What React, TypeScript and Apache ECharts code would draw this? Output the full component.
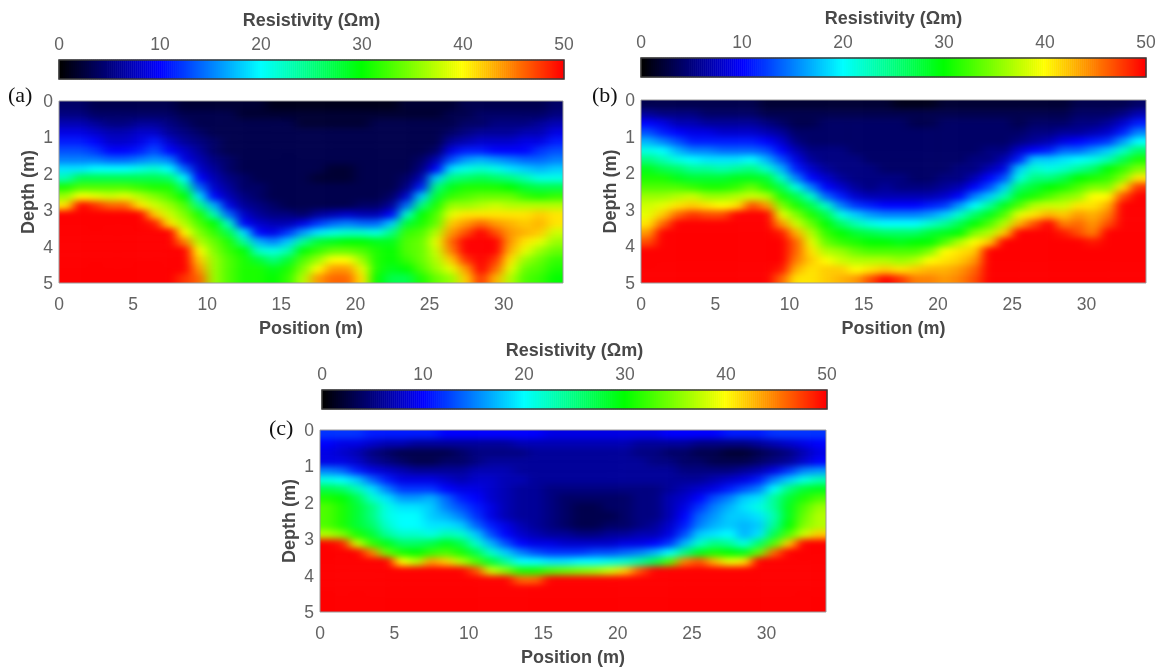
import React, { useEffect, useRef } from "react";
import * as echarts from "echarts";

const positions = [0.5,1.5,2.5,3.5,4.5,5.5,6.5,7.5,8.5,9.5,10.5,11.5,12.5,13.5,14.5,15.5,16.5,17.5,18.5,19.5,20.5,21.5,22.5,23.5,24.5,25.5,26.5,27.5,28.5,29.5,30.5,31.5,32.5,33.5];
const depths = [0.125,0.375,0.625,0.875,1.125,1.375,1.625,1.875,2.125,2.375,2.625,2.875,3.125,3.375,3.625,3.875,4.125,4.375,4.625,4.875];

// one line per position column, top to bottom
const profileA = [
[4,5,7,9,11,13,15,19,23,31,36,41,50,50,50,50,50,50,50,50],
[4,5,7,9,11,13,15,19,27,33,40,50,50,50,50,50,50,50,50,50],
[3,4,6,8,10,12,15,20,27,33,39,48,50,50,50,50,50,50,50,50],
[3,4,5,7,8,10,14,20,27,33,38,46,50,50,50,50,50,50,50,50],
[3,4,5,7,8,10,14,20,27,33,39,46,50,50,50,50,50,50,50,50],
[3,4,6,8,9,11,15,21,27,32,37,41,50,50,50,50,50,50,50,50],
[3,4,6,8,11,13,16,22,27,31,35,38,42,49,50,50,50,50,50,50],
[3,4,5,6,8,10,15,20,26,31,33,36,38,41,50,50,50,50,50,50],
[2,3,4,5,6,8,9,14,20,25,30,33,35,37,40,45,50,50,50,48],
[2,3,3,4,5,6,7,8,10,14,19,25,31,33,35,37,40,42,44,46],
[2,3,3,3,4,4,5,6,7,8,10,17,23,30,32,34,35,36,36,36],
[2,3,3,3,3,3,4,4,5,6,7,9,14,22,27,31,32,33,33,33],
[2,2,3,3,3,3,3,3,4,4,5,6,8,10,19,24,30,31,31,31],
[2,2,3,3,3,3,3,3,3,4,4,5,6,8,10,17,22,28,31,31],
[1,2,3,3,3,3,3,3,3,3,3,4,5,7,9,15,21,25,29,30],
[1,2,3,3,3,3,3,3,3,3,3,3,5,7,12,18,23,28,31,32],
[1,2,2,3,3,3,3,3,3,3,3,3,4,9,16,24,30,33,35,37],
[1,2,2,3,3,3,3,3,2,3,3,3,6,12,19,28,32,36,40,44],
[1,2,2,3,3,3,3,2,2,3,3,3,7,14,21,29,34,40,44,46],
[1,2,2,3,3,3,3,2,2,3,3,3,8,15,22,30,34,40,44,46],
[1,2,2,3,3,3,3,3,3,3,3,4,7,14,22,30,33,36,39,41],
[1,2,3,3,3,3,3,3,3,3,3,4,7,14,21,29,31,31,31,30],
[1,2,3,3,3,3,3,3,3,3,4,6,10,18,25,29,30,30,29,27],
[2,2,3,3,3,3,3,3,4,5,8,14,22,28,32,33,33,32,30,27],
[2,2,3,3,3,3,4,5,7,11,18,25,30,31,33,34,34,34,33,31],
[2,2,3,3,3,4,7,10,18,25,28,31,33,34,37,39,38,37,36,34],
[2,3,3,4,6,9,13,19,25,29,32,36,39,42,44,46,45,42,39,36],
[3,3,4,5,7,11,16,21,26,31,33,36,41,44,47,50,50,48,44,42],
[3,4,4,6,8,11,17,22,27,31,34,37,41,46,50,50,50,50,50,48],
[3,4,5,6,8,10,16,21,26,31,34,38,41,44,47,50,50,48,46,43],
[3,4,5,6,8,10,15,19,25,30,34,37,41,43,44,44,43,41,39,37],
[3,4,5,7,9,10,14,18,23,28,32,37,41,42,43,41,39,36,34,33],
[3,4,6,7,9,12,14,17,21,27,31,37,42,43,42,39,36,34,33,32],
[4,5,7,9,11,13,15,18,21,27,32,37,41,41,38,36,34,32,31,30],
];

const profileB = [
[3,6,10,13,17,21,25,29,31,33,36,38,39,41,44,47,50,50,50,50],
[3,5,9,11,15,20,23,27,31,33,36,39,42,46,50,50,50,50,50,50],
[3,5,7,10,13,17,21,26,29,33,37,41,46,50,50,50,50,50,50,50],
[3,5,7,9,11,15,20,24,28,32,38,42,48,50,50,50,50,50,50,50],
[3,4,6,9,11,15,19,24,28,31,36,41,47,50,50,50,50,50,50,50],
[3,4,6,8,11,14,19,23,28,31,36,40,47,50,50,50,50,50,50,50],
[3,4,6,8,11,14,19,24,29,32,37,41,50,50,50,50,50,50,50,50],
[3,4,6,8,11,14,20,25,29,34,38,47,50,50,50,50,50,50,50,50],
[2,3,5,7,10,13,17,22,28,31,37,44,50,50,50,50,50,50,50,50],
[2,3,4,6,8,10,13,17,22,27,31,35,39,44,49,50,50,50,49,46],
[2,3,3,4,5,7,9,11,15,21,27,31,35,38,43,46,46,45,43,41],
[2,3,3,4,4,5,6,8,10,15,22,27,31,34,37,39,41,42,41,41],
[2,3,4,4,4,5,5,6,8,10,14,22,27,30,32,34,37,40,42,42],
[2,3,4,4,4,5,5,5,6,8,11,15,21,26,30,32,36,38,42,43],
[2,3,4,4,4,4,5,5,5,6,8,12,18,23,28,31,34,37,40,44],
[2,3,4,4,4,4,4,5,5,5,7,11,16,21,27,30,33,37,41,47],
[2,3,4,4,4,4,4,4,5,6,7,10,15,20,26,30,33,37,42,50],
[1,3,4,4,4,4,4,4,5,5,7,10,15,20,26,29,33,36,41,48],
[1,3,3,4,4,4,4,4,4,5,7,10,15,20,26,30,33,37,42,45],
[1,3,3,4,4,4,4,4,4,5,7,11,16,22,28,30,35,40,43,45],
[2,3,4,4,4,4,4,4,5,6,8,12,18,24,29,33,40,41,43,44],
[2,3,4,4,4,4,4,5,5,7,10,16,22,27,30,37,41,42,44,45],
[2,3,4,4,4,4,5,5,7,10,15,20,26,30,35,40,42,44,46,47],
[2,3,4,4,4,5,5,7,10,13,18,24,29,33,37,42,50,50,50,50],
[2,3,4,4,4,5,7,9,13,18,23,29,33,37,42,50,50,50,50,50],
[2,3,3,4,5,8,11,18,21,26,29,33,39,43,50,50,50,50,50,50],
[2,3,4,5,6,10,18,22,25,28,31,37,41,47,50,50,50,50,50,50],
[2,3,4,5,7,11,18,21,25,30,33,38,43,50,50,50,50,50,50,50],
[2,3,4,6,9,14,19,22,27,31,35,38,42,45,49,50,50,50,50,50],
[3,4,5,6,10,14,20,24,30,33,36,41,44,46,47,50,50,50,50,50],
[3,4,5,7,11,16,21,26,31,35,40,41,43,44,45,49,50,50,50,50],
[3,4,6,8,12,18,23,30,32,35,40,43,45,47,50,50,50,50,50,50],
[3,5,8,11,16,22,27,32,35,41,47,50,50,50,50,50,50,50,50,50],
[4,7,11,15,20,26,31,35,41,48,50,50,50,50,50,50,50,50,50,50],
];

const profileC = [
[12,10,9,9,15,21,27,31,33,33,33,37,50,50,50,50,50,50,50,50],
[12,9,8,9,14,20,26,30,31,31,31,35,49,50,50,50,50,50,50,50],
[12,9,7,8,11,18,23,27,28,28,28,31,38,50,50,50,50,50,50,50],
[11,8,5,6,9,14,19,22,25,25,26,28,32,45,50,50,50,50,50,50],
[11,7,4,5,8,11,15,19,21,21,22,24,29,34,50,50,50,50,50,50],
[11,7,3,4,7,9,12,16,19,20,20,22,26,31,40,50,50,50,50,50],
[11,6,3,3,6,9,12,16,19,20,20,22,26,30,37,50,50,50,50,50],
[11,6,3,3,6,9,12,17,18,18,19,21,27,32,44,50,50,50,50,50],
[10,6,3,4,6,8,10,14,15,17,19,23,29,33,42,50,50,50,50,50],
[10,6,4,4,6,7,9,11,13,15,18,22,27,31,37,50,50,50,50,50],
[10,6,5,5,7,8,9,10,11,12,14,18,22,27,33,47,50,50,50,50],
[10,6,5,6,7,8,8,8,9,9,11,13,17,22,28,38,50,50,50,50],
[10,6,5,6,7,7,7,7,7,7,9,10,13,18,24,35,50,50,50,50],
[10,7,5,6,6,7,6,6,6,6,7,8,10,15,20,31,46,50,50,50],
[10,7,6,6,6,6,6,6,6,6,6,7,9,13,20,31,46,50,50,50],
[9,7,6,6,6,6,5,5,5,5,5,6,9,12,19,33,50,50,50,50],
[9,7,6,6,6,6,5,4,4,4,4,6,8,12,19,34,50,50,50,50],
[9,7,6,6,6,6,5,4,3,3,3,5,8,12,20,35,50,50,50,50],
[9,7,6,6,6,6,5,4,3,3,3,5,8,13,20,36,50,50,50,50],
[9,7,6,6,6,6,5,4,4,3,4,6,8,13,21,38,50,50,50,50],
[9,7,6,6,6,6,5,4,4,4,4,6,9,14,22,42,50,50,50,50],
[9,6,5,6,6,6,5,5,5,5,5,7,9,15,24,47,50,50,50,50],
[9,6,5,5,6,6,5,5,5,5,6,7,10,17,27,50,50,50,50,50],
[10,6,4,5,6,6,6,7,7,7,8,9,12,20,33,50,50,50,50,50],
[10,6,4,4,5,6,7,8,9,10,11,13,17,25,45,50,50,50,50,50],
[10,5,3,4,5,6,8,10,12,14,15,18,22,29,47,50,50,50,50,50],
[10,5,3,3,5,7,9,13,15,16,17,19,25,31,43,50,50,50,50,50],
[11,5,2,3,5,8,11,15,17,18,18,20,24,30,39,50,50,50,50,50],
[11,5,2,3,6,9,13,18,19,18,17,17,21,29,41,50,50,50,50,50],
[11,6,3,4,7,11,15,19,21,19,18,19,26,34,50,50,50,50,50,50],
[12,7,4,5,9,15,20,24,24,23,24,27,33,46,50,50,50,50,50,50],
[12,8,5,6,12,18,25,28,29,29,30,33,42,50,50,50,50,50,50,50],
[12,9,7,8,15,21,28,31,33,34,35,38,50,50,50,50,50,50,50,50],
[12,10,9,10,16,23,29,33,36,37,37,42,50,50,50,50,50,50,50,50],
];

const panelLabels = ["(a)", "(b)", "(c)"];
const jet = ["#000000", "#0000ff", "#00ffff", "#00ff00", "#ffff00", "#ff0000"];

const W = 1164;
const H = 669;
const EDGE = 2; // hidden cells past each edge, so the smoothing does not fade at the frame
const panels = [
  { profile: profileA, plot: [59, 101, 504, 182], bar: [59, 60, 505, 19], labelPos: [8, 94] },
  { profile: profileB, plot: [641, 100, 505, 183], bar: [641, 58, 505, 19], labelPos: [592, 94] },
  { profile: profileC, plot: [320, 430, 506, 182], bar: [322, 390, 505, 19], labelPos: [269, 427] },
];

const tickText = { color: "#636363", fontSize: 17.5, fontFamily: "Liberation Sans" };
const nameText = { color: "#484848", fontSize: 18, fontWeight: "bold" as const, fontFamily: "Liberation Sans" };

const colorbarValues: number[] = [];
for (let i = 0; i <= 250; i++) colorbarValues.push(i / 5);

function overlayOption() {
  const grid: any[] = [];
  const xAxis: any[] = [];
  const yAxis: any[] = [];
  const series: any[] = [];
  const graphic: any[] = [];

  panels.forEach((p, i) => {
    const [px, py, pw, ph] = p.plot;
    const [bx, by, bw, bh] = p.bar;

    const plotGrid = grid.length;
    grid.push({ left: px, top: py, width: pw, height: ph });
    xAxis.push({
      gridIndex: plotGrid, type: "value", position: "bottom", min: 0, max: 34, interval: 5,
      axisLine: { show: false }, axisTick: { show: false }, splitLine: { show: false },
      axisLabel: { ...tickText, margin: 12, showMaxLabel: false },
      name: "Position (m)", nameLocation: "middle", nameGap: 36, nameTextStyle: nameText,
    });
    yAxis.push({
      gridIndex: plotGrid, type: "value", position: "left", inverse: true, min: 0, max: 5, interval: 1,
      axisLine: { show: false }, axisTick: { show: false }, splitLine: { show: false },
      axisLabel: { ...tickText, margin: 6 },
      name: "Depth (m)", nameLocation: "middle", nameGap: 22, nameRotate: 90, nameTextStyle: nameText,
    });

    const barGrid = grid.length;
    grid.push({ left: bx, top: by, width: bw, height: bh });
    const barCatX = xAxis.length;
    xAxis.push({ gridIndex: barGrid, type: "category", data: colorbarValues, show: false });
    xAxis.push({
      gridIndex: barGrid, type: "value", position: "top", min: 0, max: 50, interval: 10,
      axisLine: { show: false }, splitLine: { show: false },
      axisTick: { inside: true, length: 4, lineStyle: { color: "#333", width: 1.5 } },
      axisLabel: { ...tickText, margin: 7 },
      name: "Resistivity (Ωm)", nameLocation: "middle", nameGap: 31, nameTextStyle: nameText, z: 10,
    });
    const barCatY = yAxis.length;
    yAxis.push({ gridIndex: barGrid, type: "category", data: ["bar"], show: false });
    series.push({
      type: "heatmap", xAxisIndex: barCatX, yAxisIndex: barCatY,
      data: colorbarValues.map((t, c) => [c, 0, t]),
      progressive: 0, silent: true, emphasis: { disabled: true },
    });

    graphic.push({
      type: "rect", shape: { x: bx, y: by, width: bw, height: bh }, silent: true, z: 100,
      style: { fill: "none", stroke: "#3a3a3a", lineWidth: 1.5 },
    });
    graphic.push({
      type: "rect", shape: { x: px, y: py, width: pw, height: ph }, silent: true, z: 100,
      style: { fill: "none", stroke: "#9a9a9a", lineWidth: 1 },
    });
    graphic.push({
      type: "text", x: p.labelPos[0], y: p.labelPos[1], silent: true,
      style: { text: panelLabels[i], fill: "#111", font: "22px 'Liberation Serif'", verticalAlign: "middle" },
    });
  });

  return {
    animation: false,
    backgroundColor: "transparent",
    grid, xAxis, yAxis, series, graphic,
    visualMap: { show: false, type: "continuous", min: 0, max: 50, seriesIndex: series.map((_, i) => i), inRange: { color: jet } },
  };
}

function fieldOption(profile: number[][]) {
  const nx = positions.length;
  const ny = depths.length;
  const xCats: number[] = [];
  const yCats: number[] = [];
  for (let c = -EDGE; c < nx + EDGE; c++) xCats.push(c);
  for (let r = -EDGE; r < ny + EDGE; r++) yCats.push(r);
  const data: number[][] = [];
  xCats.forEach((c, ci) => {
    const col = profile[Math.min(nx - 1, Math.max(0, c))];
    yCats.forEach((r, ri) => data.push([ci, ri, col[Math.min(ny - 1, Math.max(0, r))]]));
  });
  return {
    animation: false,
    grid: { left: 0, right: 0, top: 0, bottom: 0 },
    xAxis: { type: "category", data: xCats, show: false },
    yAxis: { type: "category", data: yCats, inverse: true, show: false },
    visualMap: { show: false, type: "continuous", min: 0, max: 50, seriesIndex: 0, inRange: { color: jet } },
    series: [{ type: "heatmap", data, progressive: 0, silent: true, emphasis: { disabled: true } }],
  };
}

function Field({ index }: { index: number }) {
  const ref = useRef<HTMLDivElement>(null);
  const p = panels[index];
  const [px, py, pw, ph] = p.plot;
  const padX = (pw / positions.length) * EDGE;
  const padY = (ph / depths.length) * EDGE;
  useEffect(() => {
    const chart = echarts.init(ref.current!, undefined, { renderer: "svg" });
    chart.setOption(fieldOption(p.profile) as any);
    return () => chart.dispose();
  }, []);
  return (
    <div style={{ position: "absolute", left: px, top: py, width: pw, height: ph, overflow: "hidden" }}>
      <div
        ref={ref}
        style={{ position: "absolute", left: -padX, top: -padY, width: pw + 2 * padX, height: ph + 2 * padY, filter: "url(#fieldSmooth)" }}
      />
    </div>
  );
}

export default function App() {
  const ref = useRef<HTMLDivElement>(null);
  useEffect(() => {
    document.body.style.margin = "0";
    const chart = echarts.init(ref.current!, undefined, { renderer: "svg" });
    chart.setOption(overlayOption() as any);
    return () => chart.dispose();
  }, []);
  return (
    <div style={{ position: "relative", width: W, height: H, background: "#fff", overflow: "hidden" }}>
      <svg width="0" height="0" style={{ position: "absolute" }}>
        <defs>
          <filter id="fieldSmooth" colorInterpolationFilters="sRGB" x="0" y="0" width="100%" height="100%">
            <feGaussianBlur stdDeviation="6 3" />
          </filter>
        </defs>
      </svg>
      {panels.map((_, i) => <Field key={i} index={i} />)}
      <div ref={ref} style={{ position: "absolute", left: 0, top: 0, width: W, height: H, filter: "blur(0.4px)" }} />
    </div>
  );
}
